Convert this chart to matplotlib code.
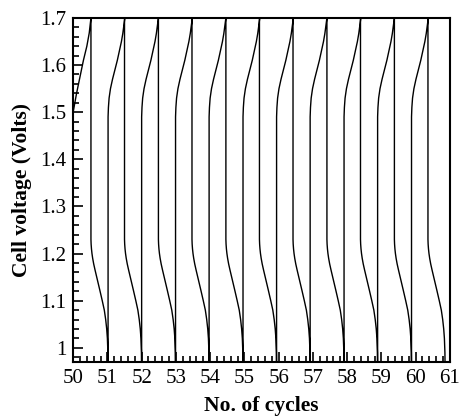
import numpy as np
import matplotlib
matplotlib.use('Agg')
import matplotlib.pyplot as plt
from matplotlib.ticker import MultipleLocator

plt.rcParams['font.family'] = 'Liberation Serif'

# one cycle: offsets (in cycles) from the start of each phase
charge_dx = [0.0, 0.0, 0.01, 0.03, 0.07, 0.13, 0.20, 0.27, 0.33, 0.39, 0.43, 0.46, 0.49]
charge_v = [0.95, 1.49, 1.51, 1.53, 1.55, 1.57, 1.59, 1.61, 1.63, 1.65, 1.667, 1.683, 1.70]
dis_dx = [0.0, 0.0, 0.005, 0.015, 0.03, 0.05, 0.08, 0.12, 0.19, 0.26, 0.33, 0.39, 0.43, 0.46, 0.48, 0.495, 0.50]
dis_v = [1.72, 1.23, 1.22, 1.21, 1.20, 1.19, 1.178, 1.165, 1.144, 1.122, 1.10, 1.08, 1.06, 1.04, 1.02, 0.99, 0.96]

# first (partial) charge at the left edge
first_x = [49.9, 50.0, 50.1, 50.2, 50.3, 50.4, 50.47, 50.52]
first_v = [1.46, 1.50, 1.54, 1.575, 1.61, 1.64, 1.668, 1.70]

# where each discharge and each charge begins
dis_start = [50.52, 51.50, 52.49, 53.47, 54.46, 55.44, 56.42, 57.41, 58.39, 59.38, 60.36]
charge_start = [51.02, 52.00, 52.99, 53.97, 54.96, 55.94, 56.92, 57.91, 58.89, 59.88]

xs = list(first_x)
vs = list(first_v)
for i, d0 in enumerate(dis_start):
    xs += [d0 + dx for dx in dis_dx]
    vs += dis_v
    if i < len(charge_start):
        c0 = charge_start[i]
        xs += [c0 + dx for dx in charge_dx]
        vs += charge_v

fig = plt.figure(figsize=(4.6, 4.17), dpi=100)
ax = fig.add_axes([0.159, 0.132, 0.819, 0.825])
ax.plot(xs, vs, color='black', lw=1.0)

ax.set_xlim(50, 61)
ax.set_ylim(0.97, 1.7)
ax.set_xticks(range(50, 62))
ax.set_yticks([1.0, 1.1, 1.2, 1.3, 1.4, 1.5, 1.6, 1.7])
ax.set_yticklabels(['1', '1.1', '1.2', '1.3', '1.4', '1.5', '1.6', '1.7'])
ax.xaxis.set_minor_locator(MultipleLocator(0.2))
ax.yaxis.set_minor_locator(MultipleLocator(0.02))
ax.tick_params(which='both', direction='in', top=False, right=False, labelsize=15, width=1.2)
ax.tick_params(which='major', length=7, pad=5)
ax.tick_params(which='minor', length=4)
for s in ax.spines.values():
    s.set_linewidth(1.5)

ax.set_xlabel('No. of cycles', fontsize=15.5, fontweight='bold', labelpad=6)
ax.set_ylabel('Cell voltage (Volts)', fontsize=15.5, fontweight='bold', labelpad=6)

fig.savefig('out.png', dpi=100)
